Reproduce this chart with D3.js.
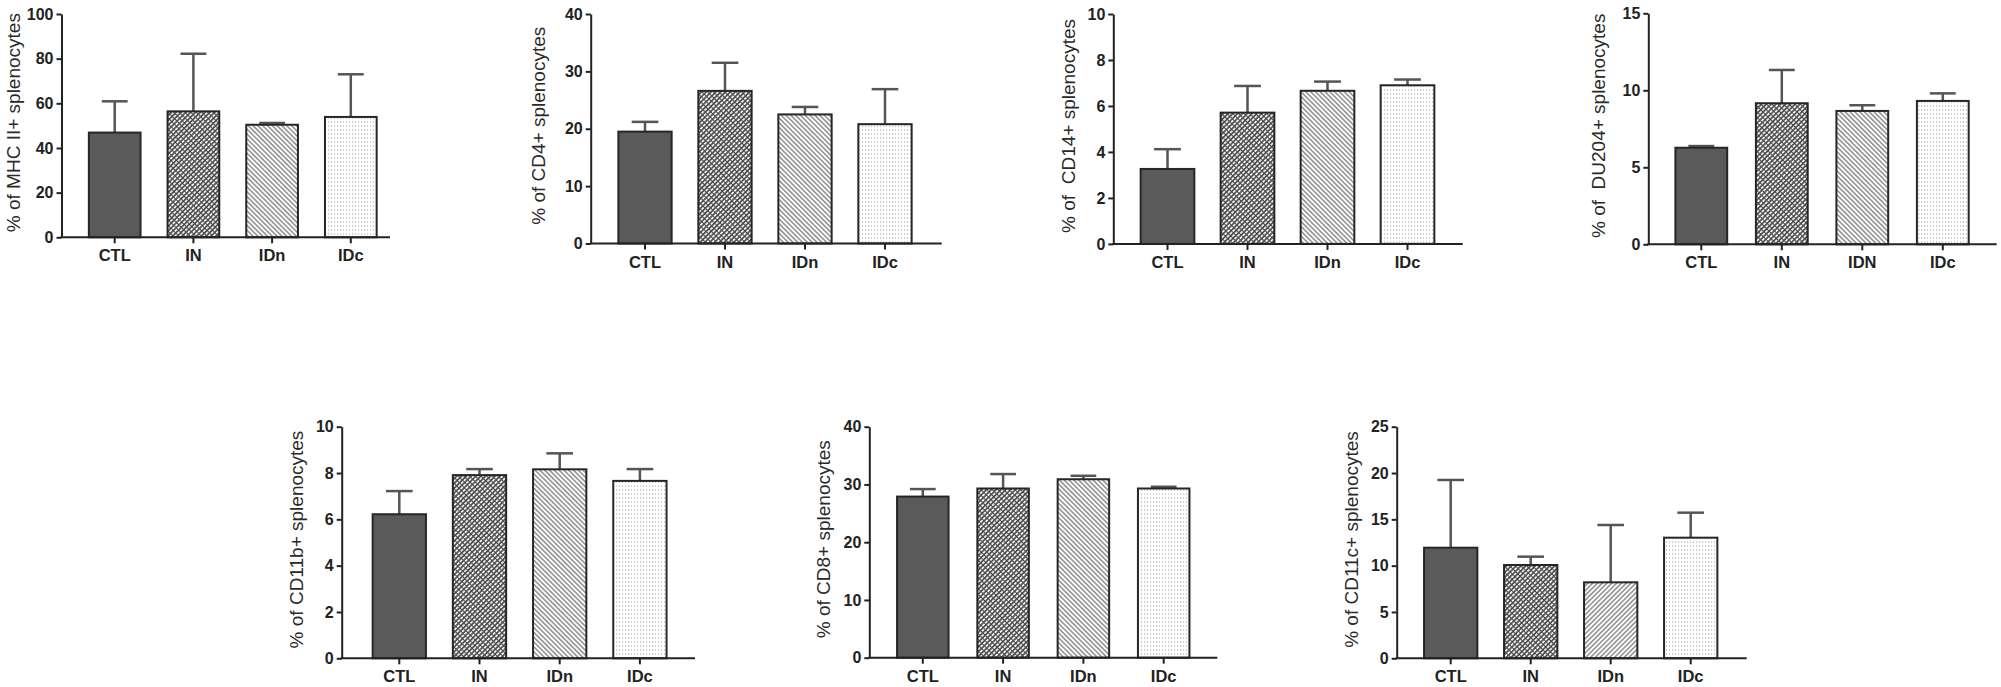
<!DOCTYPE html>
<html>
<head>
<meta charset="utf-8">
<script src="https://cdn.jsdelivr.net/npm/d3@7"></script>
<style>
  body { margin: 0; background: #fff; }
  svg { display: block; }
  .tick text { font-family: "Liberation Sans", Arial, sans-serif; font-weight: bold; font-size: 16px; fill: #222; }
  .cat-label { font-family: "Liberation Sans", Arial, sans-serif; font-weight: bold; font-size: 16.5px; fill: #222; }
  .y-title { font-family: "Liberation Sans", Arial, sans-serif; font-size: 19px; fill: #2a2a2a; white-space: pre; }
</style>
</head>
<body>
<script>
// categories
const groups = ["CTL", "IN", "IDn", "IDc"];
const groupsDU = ["CTL", "IN", "IDN", "IDc"];

// means and (upper) SEM
const mhcMean = [46.9, 56.4, 50.4, 53.9];
const mhcSem = [14.0, 25.8, 0.8, 19.1];
const cd4Mean = [19.5, 26.6, 22.5, 20.8];
const cd4Sem = [1.7, 4.9, 1.3, 6.1];
const cd14Mean = [3.26, 5.71, 6.66, 6.9];
const cd14Sem = [0.86, 1.16, 0.4, 0.25];
const du204Mean = [6.27, 9.16, 8.66, 9.31];
const du204Sem = [0.11, 2.16, 0.37, 0.49];
const cd11bMean = [6.22, 7.91, 8.16, 7.66];
const cd11bSem = [1.0, 0.26, 0.69, 0.51];
const cd8Mean = [27.9, 29.3, 30.9, 29.3];
const cd8Sem = [1.3, 2.5, 0.6, 0.3];
const cd11cMean = [11.94, 10.07, 8.2, 13.02];
const cd11cSem = [7.31, 0.9, 6.19, 2.7];

// y axis tick labels
const ticks100 = [0, 20, 40, 60, 80, 100];
const ticks40 = [0, 10, 20, 30, 40];
const ticks10 = [0, 2, 4, 6, 8, 10];
const ticks15 = [0, 5, 10, 15];
const ticks25 = [0, 5, 10, 15, 20, 25];

const panels = [
  {title: "% of MHC II+ splenocytes", cats: groups, mean: mhcMean, sem: mhcSem, max: 100, ticks: ticks100,
   axisX: 61.5, axisEnd: 390, first: 114.7, step: 78.7, barW: 51.7, yTop: 14, y0: 237.3, labelX: 13},
  {title: "% of CD4+ splenocytes", cats: groups, mean: cd4Mean, sem: cd4Sem, max: 40, ticks: ticks40,
   axisX: 590.7, axisEnd: 941.7, first: 645, step: 80, barW: 53.3, yTop: 14, y0: 243.5, labelX: 538},
  {title: "% of  CD14+ splenocytes", cats: groups, mean: cd14Mean, sem: cd14Sem, max: 10, ticks: ticks10,
   axisX: 1113.3, axisEnd: 1462.7, first: 1167.5, step: 80, barW: 53.7, yTop: 14, y0: 243.9, labelX: 1068},
  {title: "% of  DU204+ splenocytes", cats: groupsDU, mean: du204Mean, sem: du204Sem, max: 15, ticks: ticks15,
   axisX: 1648.3, axisEnd: 1996.7, first: 1701.3, step: 80.5, barW: 51.8, yTop: 13.3, y0: 244.3, labelX: 1598},
  {title: "% of CD11b+ splenocytes", cats: groups, mean: cd11bMean, sem: cd11bSem, max: 10, ticks: ticks10,
   axisX: 341.7, axisEnd: 695, first: 399.3, step: 80.2, barW: 53.3, yTop: 426.7, y0: 658.3, labelX: 296.7},
  {title: "% of CD8+ splenocytes", cats: groups, mean: cd8Mean, sem: cd8Sem, max: 40, ticks: ticks40,
   axisX: 869.3, axisEnd: 1217.3, first: 922.8, step: 80.3, barW: 51.5, yTop: 426.7, y0: 657.7, labelX: 823.3},
  {title: "% of CD11c+ splenocytes", cats: groups, mean: cd11cMean, sem: cd11cSem, max: 25, ticks: ticks25,
   axisX: 1396.7, axisEnd: 1746.7, first: 1450.7, step: 80, barW: 53.3, yTop: 426.7, y0: 658.3, labelX: 1351.7, idnFlip: true}
];

const width = 2001, height = 687;
const svg = d3.select("body").append("svg")
  .attr("width", width).attr("height", height);

// fill patterns
const defs = svg.append("defs");

let pIn = defs.append("pattern").attr("id", "pat-in")
  .attr("patternUnits", "userSpaceOnUse").attr("width", 4).attr("height", 3.4)
  .attr("patternTransform", "rotate(-45)");
pIn.append("rect").attr("width", 4).attr("height", 3.4).attr("fill", "#4a4a4a");
pIn.append("rect").attr("x", 0).attr("y", 0.8).attr("width", 2.9).attr("height", 1.8).attr("fill", "#f4f4f4");

function stripes(id, angle) {
  let p = defs.append("pattern").attr("id", id)
    .attr("patternUnits", "userSpaceOnUse").attr("width", 3.4).attr("height", 3.4)
    .attr("patternTransform", `rotate(${angle})`);
  p.append("rect").attr("width", 3.4).attr("height", 3.4).attr("fill", "#fff");
  p.append("line").attr("x1", 1.7).attr("x2", 1.7).attr("y1", 0).attr("y2", 3.4)
    .attr("stroke", "#7a7a7a").attr("stroke-width", 1.3);
}
stripes("pat-idn", -45);
stripes("pat-idn2", 45);

let pDot = defs.append("pattern").attr("id", "pat-idc")
  .attr("patternUnits", "userSpaceOnUse").attr("width", 3).attr("height", 4);
pDot.append("rect").attr("width", 3).attr("height", 4).attr("fill", "#fff");
pDot.append("rect").attr("x", 1).attr("y", 1.5).attr("width", 1.1).attr("height", 1.1).attr("fill", "#a8a8a8");

function fillFor(i, p) {
  if (i === 0) return "#5a5a5a";
  if (i === 1) return "url(#pat-in)";
  if (i === 2) return p.idnFlip ? "url(#pat-idn2)" : "url(#pat-idn)";
  return "url(#pat-idc)";
}

panels.forEach(p => {
  let g = svg.append("g");
  let pad = 1 - p.barW / p.step;
  let start = p.first - p.step / 2;

  let x = d3.scaleBand()
    .domain(p.cats)
    .range([start, start + p.cats.length * p.step])
    .paddingInner(pad)
    .paddingOuter(pad / 2);

  let y = d3.scaleLinear()
    .domain([0, p.max])
    .range([p.y0, p.yTop]);

  let rows = p.cats.map((c, i) => ({cat: c, mean: p.mean[i], sem: p.sem[i], i: i}));

  // error bars (upper only)
  let err = g.selectAll(".err").data(rows).enter().append("g");
  err.append("line")
    .attr("x1", d => x(d.cat) + x.bandwidth() / 2)
    .attr("x2", d => x(d.cat) + x.bandwidth() / 2)
    .attr("y1", d => y(d.mean))
    .attr("y2", d => y(d.mean + d.sem))
    .attr("stroke", "#555").attr("stroke-width", 2.5);
  err.append("line")
    .attr("x1", d => x(d.cat) + x.bandwidth() * 0.25)
    .attr("x2", d => x(d.cat) + x.bandwidth() * 0.75)
    .attr("y1", d => y(d.mean + d.sem))
    .attr("y2", d => y(d.mean + d.sem))
    .attr("stroke", "#555").attr("stroke-width", 2.5);

  // bars
  g.selectAll(".bar").data(rows).enter().append("rect")
    .attr("x", d => x(d.cat))
    .attr("y", d => y(d.mean))
    .attr("width", x.bandwidth())
    .attr("height", d => y(0) - y(d.mean))
    .attr("fill", d => fillFor(d.i, p))
    .attr("stroke", "#262626")
    .attr("stroke-width", 2);

  // y axis
  let yAxis = g.append("g")
    .attr("transform", `translate(${p.axisX},0)`)
    .call(d3.axisLeft(y).tickValues(p.ticks).tickSize(5).tickSizeOuter(0).tickPadding(3));
  yAxis.select(".domain").attr("stroke", "#222").attr("stroke-width", 2);
  yAxis.selectAll(".tick line").attr("stroke", "#222").attr("stroke-width", 2);
  yAxis.selectAll(".tick text").attr("font-family", null).attr("font-size", null);

  // x axis
  g.append("line")
    .attr("x1", p.axisX - 1).attr("x2", p.axisEnd)
    .attr("y1", p.y0).attr("y2", p.y0)
    .attr("stroke", "#222").attr("stroke-width", 2);
  g.selectAll(".xtick").data(rows).enter().append("line")
    .attr("x1", d => x(d.cat) + x.bandwidth() / 2)
    .attr("x2", d => x(d.cat) + x.bandwidth() / 2)
    .attr("y1", p.y0).attr("y2", p.y0 + 6)
    .attr("stroke", "#222").attr("stroke-width", 2);
  g.selectAll(".cat-label").data(rows).enter().append("text")
    .attr("class", "cat-label")
    .attr("x", d => x(d.cat) + x.bandwidth() / 2)
    .attr("y", p.y0 + 24)
    .attr("text-anchor", "middle")
    .text(d => d.cat);

  // y title
  g.append("text")
    .attr("class", "y-title")
    .attr("transform", "rotate(-90)")
    .attr("x", -(p.yTop + p.y0) / 2 + 3)
    .attr("y", p.labelX)
    .attr("dy", "0.35em")
    .attr("text-anchor", "middle")
    .text(p.title);
});
</script>
</body>
</html>
